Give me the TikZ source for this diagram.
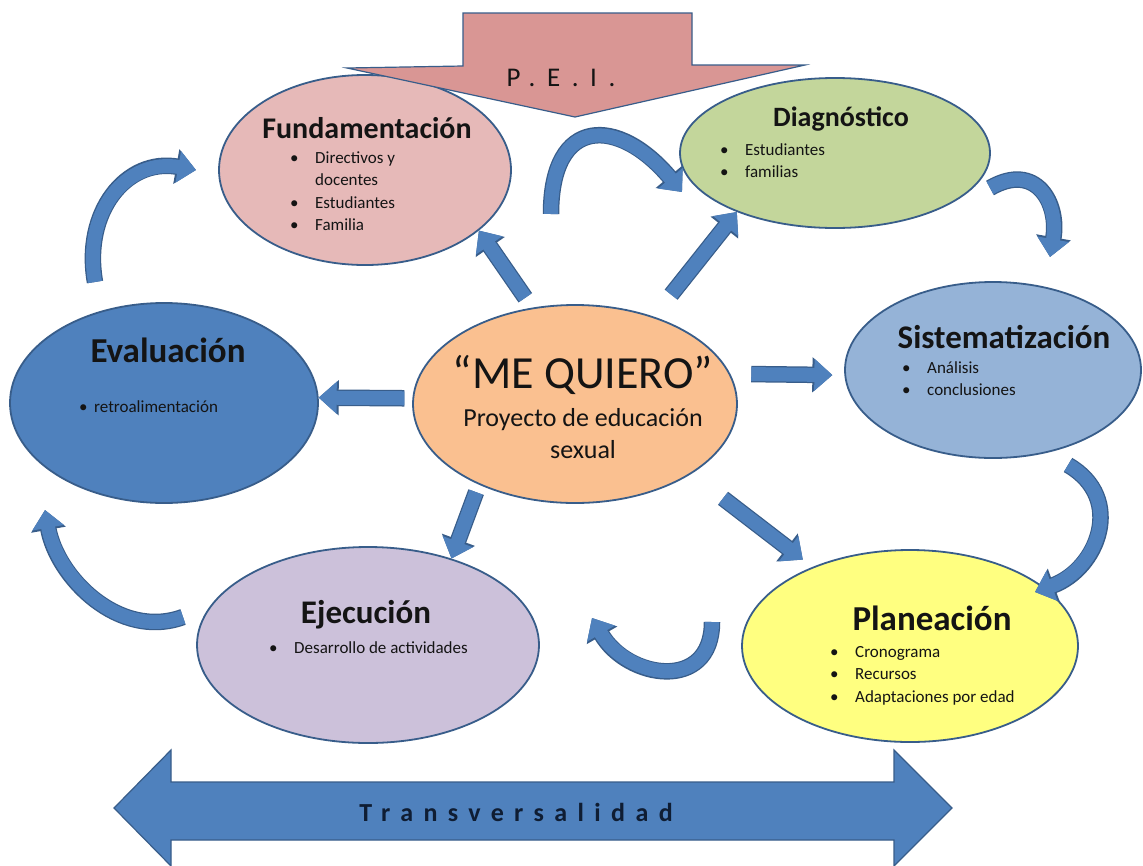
\documentclass[tikz,border=0pt]{standalone}
\usepackage{fontspec}
\setmainfont{Carlito}
\usetikzlibrary{shapes.geometric,arrows.meta}

\definecolor{azul}{HTML}{4F81BD}
\definecolor{borde}{HTML}{385D8A}
\definecolor{rosa}{HTML}{E6B9B8}
\definecolor{verde}{HTML}{C3D69B}
\definecolor{celeste}{HTML}{95B3D7}
\definecolor{amarillo}{HTML}{FFFF80}
\definecolor{lila}{HTML}{CCC1DA}
\definecolor{naranja}{HTML}{FAC090}
\definecolor{peirosa}{HTML}{D99694}
\definecolor{tinta}{HTML}{141414}
\definecolor{marino}{HTML}{0F1D33}

\newcommand{\tam}[1]{\fontsize{#1}{#1}\selectfont}
\newcommand{\bul}{\makebox[25pt][l]{\textbullet}}
\newcommand{\sang}{\hspace*{25pt}}

\begin{document}
\begin{tikzpicture}[x=1pt,y=1pt]
  \tikzstyle{etapa}=[ellipse, draw=borde, line width=1.8pt, inner sep=0pt]
  \tikzstyle{titulo}=[inner sep=0pt, text=tinta]
  \tikzstyle{lista}=[anchor=base west, inner sep=0pt, text=tinta, font=\fontsize{17}{22.5}\selectfont]
  \tikzstyle{flecha}=[line width=14pt, color=azul, -{Triangle[width=31pt,length=18pt]},
    preaction={draw=borde, line width=16.5pt, -{Triangle[width=34pt,length=20pt]}}]
  \tikzstyle{bloque}=[fill=azul, draw=borde, line width=1.2pt, line join=miter]

  \fill[white] (0,0) rectangle (1143,-865);
  \clip (0,0) rectangle (1143,-865);

  % etapas del proyecto
  \node[etapa, fill=rosa, minimum width=292pt, minimum height=190pt] (fund) at (365,-170) {};
  \node[etapa, fill=verde, minimum width=310pt, minimum height=150pt] (diag) at (835,-153) {};
  \node[etapa, fill=celeste, minimum width=296pt, minimum height=176pt] (sist) at (993,-370) {};
  \node[etapa, fill=amarillo, minimum width=336pt, minimum height=192pt] (plan) at (910,-646) {};
  \node[etapa, fill=lila, minimum width=342pt, minimum height=196pt] (ejec) at (368,-645) {};
  \node[etapa, fill=azul, minimum width=308pt, minimum height=200pt] (eval) at (164,-403) {};
  \node[etapa, fill=naranja, minimum width=324pt, minimum height=198pt] (centro) at (575,-404) {};

  % flechas rectas desde el centro
  \draw[flecha, shorten <=12pt] (centro.114) -- (fund.-28);
  \draw[flecha, shorten <=28pt] (centro.48) -- (diag.-149);
  \draw[flecha, shorten <=21pt, shorten >=12pt] (centro.11) -- (sist.182);
  \draw[flecha, shorten <=8pt] (centro.178) -- (eval.2);
  \draw[flecha, shorten <=8pt] (centro.-140) -- (ejec.46);
  \draw[flecha, shorten <=40pt, shorten >=12pt] (centro.-31) -- (plan.141);

  % flechas curvas del ciclo
  \coordinate (a1) at (551,-214);
  \coordinate (a2) at (682,-192);
  \coordinate (b1) at (990,-188);
  \coordinate (b2) at (1050,-257);
  \coordinate (c1) at (1068,-465);
  \coordinate (c2) at (1035,-592);
  \coordinate (d1) at (712,-622);
  \coordinate (d2) at (592,-618);
  \coordinate (e1) at (183,-617);
  \coordinate (e2) at (45,-510);
  \coordinate (f1) at (95,-282);
  \coordinate (f2) at (196,-170);
  \draw[flecha] (a1) to[out=90,in=130,looseness=1.9] (a2);
  \draw[flecha] (b1) to[out=30,in=80,looseness=1.5] (b2);
  \draw[flecha] (c1) to[out=-30,in=20,looseness=1.3] (c2);
  \draw[flecha] (d1) to[out=-90,in=-60,looseness=1.5] (d2);
  \draw[flecha] (e1) to[out=200,in=-80,looseness=1] (e2);
  \draw[flecha] (f1) to[out=100,in=170,looseness=1.2] (f2);

  % P.E.I. y transversalidad
  \draw[fill=peirosa, draw=borde, line width=1.2pt, line join=miter]
    (463,-13) -- (692,-13) -- (692,-65) -- (805,-65) -- (575,-117) -- (347,-68) -- (463,-66) -- cycle;
  \draw[bloque] (114,-808) -- (171,-750) -- (171,-782) -- (894,-782) -- (894,-750)
    -- (952,-808) -- (894,-866) -- (894,-840) -- (171,-840) -- (171,-866) -- cycle;
  \node[titulo, font=\tam{27}] (pei) at (561,-78) {\addfontfeatures{LetterSpace=43}P.E.I.};
  \node[titulo, text=marino, font=\bfseries\tam{26}] (trans) at (516,-812)
    {\addfontfeatures{LetterSpace=40}Transversalidad};

  % textos
  \node[titulo, font=\bfseries\tam{30}] (tfund) at (367,-128) {Fundamentación};
  \node[lista] (lfund) at (290,-163) {\begin{tabular}[t]{@{}l@{}}\bul Directivos y\\\sang docentes\\\bul Estudiantes\\\bul Familia\end{tabular}};
  \node[titulo, font=\bfseries\tam{28}] (tdiag) at (841,-119) {Diagnóstico};
  \node[lista] (ldiag) at (720,-155) {\begin{tabular}[t]{@{}l@{}}\bul Estudiantes\\[-0.5pt]\bul familias\end{tabular}};
  \node[titulo, font=\bfseries\tam{33}] (tsist) at (1004,-337) {Sistematización};
  \node[lista] (lsist) at (902,-373) {\begin{tabular}[t]{@{}l@{}}\bul Análisis\\\bul conclusiones\end{tabular}};
  \node[titulo, font=\bfseries\tam{35}] (tplan) at (932,-618) {Planeación};
  \node[lista] (lplan) at (830,-657) {\begin{tabular}[t]{@{}l@{}}\bul Cronograma\\\bul Recursos\\\bul Adaptaciones por edad\end{tabular}};
  \node[titulo, font=\bfseries\tam{33}] (tejec) at (366,-615) {Ejecución};
  \node[lista] (lejec) at (269,-653) {\bul Desarrollo de actividades};
  \node[titulo, font=\bfseries\tam{35}] (teval) at (168,-350) {Evaluación};
  \node[lista, font=\tam{17}] (leval) at (79,-412) {\makebox[15pt][l]{\textbullet}retroalimentación};
  \node[titulo, font=\tam{46}] (tcentro) at (583,-375) {“ME QUIERO”};
  \node[titulo, font=\fontsize{26}{32}\selectfont, align=center] (scentro) at (583,-434)
    {Proyecto de educación\\sexual};
\end{tikzpicture}
\end{document}
